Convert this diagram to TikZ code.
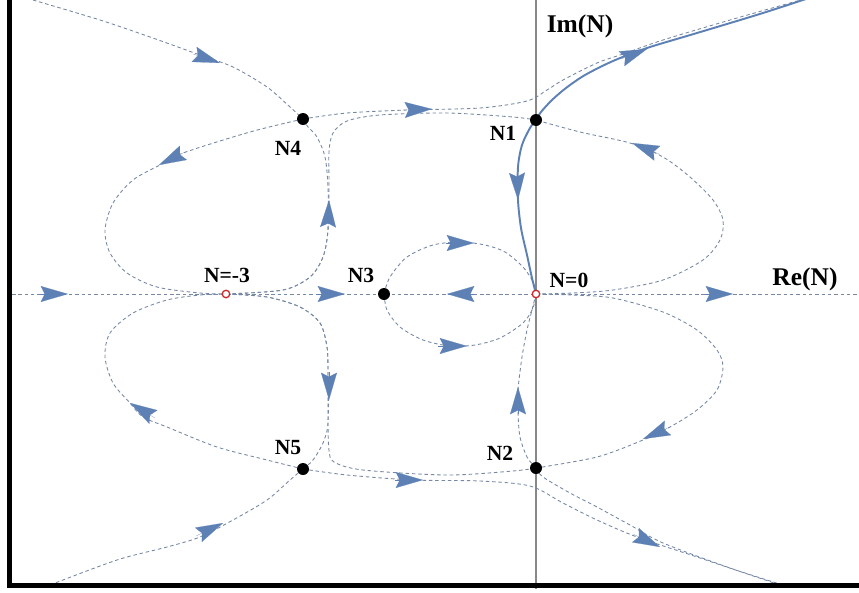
\documentclass[tikz,border=0pt]{standalone}
\usepackage{fontspec}
\setmainfont{Liberation Serif}
\usetikzlibrary{arrows.meta}
\pgfdeclarelayer{bg}
\pgfsetlayers{bg,main}
\definecolor{flowline}{RGB}{118,136,164}
\definecolor{arrowblue}{RGB}{94,129,181}
\definecolor{polered}{RGB}{205,40,40}
\definecolor{axisgray}{RGB}{135,135,135}
\begin{document}
\begin{tikzpicture}[x=0.02cm,y=-0.02cm,
  flow/.style={draw=flowline, line width=0.5pt, dash pattern=on 2pt off 1.6pt},
  traj/.style={draw=arrowblue, line width=1.1pt},
  tipmark/.style={arrowblue, line width=0.1pt, -{Stealth[length=15.5pt,width=9pt,inset=2.2pt]}},
  fixpt/.style={circle, fill=black, inner sep=0pt, minimum size=0.24cm},
  pole/.style={circle, draw=polered, fill=white, line width=0.75pt, inner sep=0pt, minimum size=0.15cm},
  lbl/.style={font=\bfseries\fontsize{12.3}{14}\selectfont, inner sep=0pt, anchor=base},
  axlbl/.style={font=\bfseries\fontsize{14.5}{17}\selectfont, inner sep=0pt, anchor=base},
  axisline/.style={draw=axisgray, line width=0.75pt},
  frameline/.style={draw=black, line width=2.3pt, line join=miter}]
\useasboundingbox (0,0) rectangle (859,592);
\clip (0,0) rectangle (859,592);

% fixed points
\node[pole] (n0) at (536,294) {};
\node[pole] (nm3) at (226,294) {};
\node[fixpt] (n3) at (384,294) {};
\node[fixpt] (n1) at (536,120) {};
\node[fixpt] (n2) at (536,468) {};
\node[fixpt] (n4) at (303,119) {};
\node[fixpt] (n5) at (303,469) {};

% free ends
\coordinate (imtop) at (536,-5);
\coordinate (imbot) at (536,589);
\coordinate (releft) at (12,294);
\coordinate (reright) at (865,294);
\coordinate (tl) at (33,0);
\coordinate (bl) at (50,585);
\coordinate (trA) at (815,-4);
\coordinate (trS) at (818,-5);
\coordinate (brA) at (780,585);
\coordinate (brB) at (783,585);

\begin{pgfonlayer}{bg}
\draw[axisline] (imtop) -- (imbot);
\draw[flow] (releft) -- (reright);

% upper half
\draw[flow] plot[smooth] coordinates {(tl) (100,20) (150,37) (200,55) (233,67) (267,87) (290,107) (n4.center)};
\draw[flow] plot[smooth] coordinates {(n4.center) (250,132) (183,153) (160,165) (133,180) (113,203) (105,230) (110,253) (127,273) (157,287) (200,293) (nm3.center)};
\draw[flow] plot[smooth] coordinates {(nm3.center) (283,290) (310,277) (323,257) (328,230) (328,187) (325,157) (317,137) (308,127) (n4.center)};
\draw[flow] plot[smooth] coordinates {(nm3.center) (283,290) (310,277) (323,257) (328,230) (329,187) (329,152) (333,133) (347,121) (380,115) (447,113) (513,117) (n1.center)};
\draw[flow] plot[smooth] coordinates {(n4.center) (347,113) (407,110) (480,108) (527,101) (547,90) (563,80) (597,63) (623,54) (663,40) (730,20) (trA)};
\draw[flow] plot[smooth] coordinates {(n0.center) (573,293) (613,290) (663,280) (703,260) (720,240) (723,220) (713,200) (690,177) (663,157) (630,143) (580,132) (n1.center)};
\draw[flow] plot[smooth] coordinates {(n3.center) (390,277) (407,257) (433,245) (460,242) (485,245) (505,252) (523,267) (533,282) (n0.center)};

% lower half
\draw[flow] plot[smooth] coordinates {(bl) (117,560) (167,547) (200,537) (233,520) (267,500) (290,480) (n5.center)};
\draw[flow] plot[smooth] coordinates {(n5.center) (267,460) (217,447) (167,427) (143,417) (130,403) (113,383) (105,357) (110,333) (133,313) (167,300) (200,295) (nm3.center)};
\draw[flow] plot[smooth] coordinates {(nm3.center) (267,297) (300,307) (320,323) (327,347) (328,373) (328,423) (323,443) (313,460) (n5.center)};
\draw[flow] plot[smooth] coordinates {(nm3.center) (267,297) (300,307) (320,323) (327,347) (328,373) (328,423) (329,450) (334,462) (363,470) (447,475) (513,471) (n2.center)};
\draw[flow] plot[smooth] coordinates {(n5.center) (347,475) (413,480) (480,481) (530,486) (563,503) (597,520) (637,537) (697,557) (brA)};
\draw[flow] plot[smooth] coordinates {(n2.center) (543,477) (570,493) (597,507) (630,525) (663,543) (730,568) (brB)};
\draw[flow] plot[smooth] coordinates {(n0.center) (573,295) (613,298) (663,312) (697,330) (717,350) (723,367) (717,390) (697,410) (670,427) (643,440) (597,457) (n2.center)};
\draw[flow] plot[smooth] coordinates {(n2.center) (527,457) (520,437) (518,413) (518,390) (522,357) (527,330) (532,310) (n0.center)};
\draw[flow] plot[smooth] coordinates {(n3.center) (387,310) (400,327) (423,340) (450,346) (475,345) (500,338) (523,323) (533,308) (n0.center)};

% solid trajectories from N1
\draw[traj] plot[smooth] coordinates {(n1.center) (541,112) (552,100) (566,88) (585,75) (613,61) (647,48) (697,33) (763,13) (trS)};
\draw[traj] plot[smooth] coordinates {(n1.center) (530,128) (522,145) (518,167) (518,200) (521,228) (527,255) (532,278) (n0.center)};

% arrow heads
\draw[tipmark] (40,294) -- (68,294);
\draw[tipmark] (316,294) -- (345,294);
\draw[tipmark] (475,294) -- (447,294);
\draw[tipmark] (705,294) -- (733,294);
\draw[tipmark] (193,54) -- (220,63);
\draw[tipmark] (185,152) -- (159,165);
\draw[tipmark] (328,228) -- (329,200);
\draw[tipmark] (403,110) -- (432,109);
\draw[tipmark] (621,59) -- (647,49);
\draw[tipmark] (517,172) -- (518,200);
\draw[tipmark] (659,154) -- (632,143);
\draw[tipmark] (670,427) -- (643,439);
\draw[tipmark] (518,414) -- (518,387);
\draw[tipmark] (446,243) -- (474,243);
\draw[tipmark] (438,346) -- (467,346);
\draw[tipmark] (196,536) -- (223,523);
\draw[tipmark] (155,418) -- (130,403);
\draw[tipmark] (329,372) -- (329,400);
\draw[tipmark] (395,480) -- (423,480);
\draw[tipmark] (633,534) -- (660,547);
\end{pgfonlayer}

% frame
\coordinate (ftop) at (9.5,-5);
\coordinate (fcorner) at (9.5,585.5);
\coordinate (fright) at (865,585.5);
\draw[frameline] (ftop) -- (fcorner) -- (fright);

% labels
\node[axlbl] (imlab) at (580,32) {Im(N)};
\node[axlbl] (relab) at (805,285) {Re(N)};
\node[lbl] (l1) at (503,140) {N1};
\node[lbl] (l2) at (500,460) {N2};
\node[lbl] (l3) at (361,282) {N3};
\node[lbl] (l4) at (288,155) {N4};
\node[lbl] (l5) at (288,454) {N5};
\node[lbl] (l0) at (569,287) {N=0};
\node[lbl] (lm3) at (227,282) {N=-3};
\end{tikzpicture}
\end{document}
